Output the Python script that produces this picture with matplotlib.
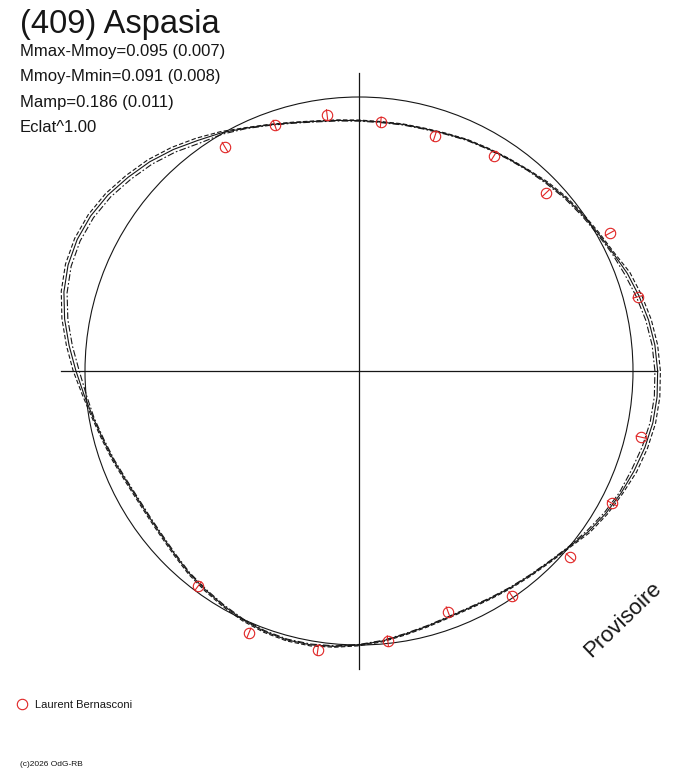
import numpy as np
import matplotlib
matplotlib.use("Agg")
import matplotlib.pyplot as plt
from matplotlib.patches import Circle

plt.rcParams['font.family'] = ['Liberation Sans', 'DejaVu Sans']

title = "(409) Aspasia"
info_lines = ["Mmax-Mmoy=0.095 (0.007)",
              "Mmoy-Mmin=0.091 (0.008)",
              "Mamp=0.186 (0.011)",
              "Eclat^1.00"]
observer = "Laurent Bernasconi"
credit = "(c)2026 OdG-RB"
stamp = "Provisoire"

# fitted curves, radius relative to mean (circle = 1), phase in degrees
fit_phase = np.arange(0, 360, 5)
r_solid = [1.090, 1.084, 1.073, 1.058, 1.042, 1.022, 1.007, 0.995, 0.984, 0.971,
           0.958, 0.947, 0.938, 0.931, 0.922, 0.916, 0.914, 0.912, 0.914, 0.918,
           0.925, 0.938, 0.956, 0.978, 1.004, 1.027, 1.055, 1.080, 1.100, 1.119,
           1.131, 1.135, 1.130, 1.115, 1.091, 1.062, 1.033, 1.007, 0.985, 0.967,
           0.953, 0.940, 0.933, 0.933, 0.938, 0.949, 0.964, 0.976, 0.989, 1.002,
           1.011, 1.016, 1.015, 1.009, 1.000, 0.989, 0.975, 0.964, 0.956, 0.954,
           0.958, 0.965, 0.973, 0.984, 1.000, 1.022, 1.040, 1.055, 1.068, 1.080,
           1.089, 1.092]
r_dash = [1.100, 1.094, 1.083, 1.068, 1.052, 1.026, 1.011, 0.999, 0.988, 0.975,
          0.960, 0.949, 0.940, 0.933, 0.924, 0.918, 0.916, 0.914, 0.916, 0.920,
          0.927, 0.940, 0.958, 0.980, 1.009, 1.037, 1.065, 1.090, 1.110, 1.129,
          1.141, 1.145, 1.140, 1.125, 1.101, 1.072, 1.043, 1.013, 0.989, 0.971,
          0.957, 0.944, 0.937, 0.937, 0.942, 0.953, 0.968, 0.980, 0.993, 1.006,
          1.015, 1.020, 1.019, 1.012, 1.003, 0.992, 0.978, 0.967, 0.959, 0.957,
          0.961, 0.968, 0.976, 0.987, 1.003, 1.028, 1.046, 1.061, 1.078, 1.090,
          1.099, 1.102]
r_dashdot = [1.080, 1.074, 1.063, 1.048, 1.032, 1.018, 1.003, 0.991, 0.980, 0.967,
             0.956, 0.945, 0.936, 0.929, 0.920, 0.914, 0.912, 0.910, 0.912, 0.916,
             0.923, 0.936, 0.954, 0.976, 0.998, 1.015, 1.043, 1.068, 1.088, 1.107,
             1.119, 1.123, 1.118, 1.103, 1.079, 1.050, 1.021, 0.999, 0.982, 0.964,
             0.950, 0.937, 0.930, 0.930, 0.935, 0.946, 0.961, 0.973, 0.986, 0.999,
             1.008, 1.013, 1.012, 1.007, 0.998, 0.987, 0.973, 0.962, 0.954, 0.952,
             0.956, 0.963, 0.971, 0.982, 0.998, 1.016, 1.034, 1.049, 1.058, 1.070,
             1.079, 1.082]

# observations
obs_phase = [120.9, 108.9, 97.1, 85.0, 72.1, 57.9, 43.6, 28.8, 14.9,
             346.8, 332.4, 318.6, 304.2, 290.3, 276.1, 261.6, 247.2, 233.2]
obs_r = [0.953, 0.949, 0.942, 0.912, 0.901, 0.927, 0.942, 1.045, 1.053,
         1.057, 1.042, 1.027, 0.993, 0.936, 0.991, 1.029, 1.037, 0.980]
obs_err = [0.019, 0.018, 0.019, 0.018, 0.018, 0.019, 0.018, 0.019, 0.018,
           0.018, 0.019, 0.018, 0.019, 0.018, 0.019, 0.018, 0.019, 0.018]

W, H = 688, 768
cx, cy, scale = 359, 371, 274.0   # centre in pixels, pixels per unit
axis_len = 1.088

fig = plt.figure(figsize=(W / 100, H / 100), dpi=100)
ax = fig.add_axes([0, 0, 1, 1])
ax.set_xlim(-cx / scale, (W - cx) / scale)
ax.set_ylim(-(H - cy) / scale, cy / scale)
ax.axis('off')

ink = '#161616'
red = '#e02424'

ax.plot([-axis_len, axis_len], [0, 0], color=ink, lw=0.9)
ax.plot([0, 0], [-axis_len, axis_len], color=ink, lw=0.9)
ax.add_patch(Circle((0, 0), 1.0, fill=False, ec=ink, lw=0.8))


def closed_xy(phase, r):
    t = np.radians(np.append(phase, phase[0]))
    rr = np.append(r, r[0])
    return rr * np.cos(t), rr * np.sin(t)


x, y = closed_xy(fit_phase, r_solid)
ax.plot(x, y, color=ink, lw=0.8)
x, y = closed_xy(fit_phase, r_dash)
ax.plot(x, y, color=ink, lw=0.8, ls=(0, (4, 2)))
x, y = closed_xy(fit_phase, r_dashdot)
ax.plot(x, y, color=ink, lw=0.8, ls=(0, (6, 2, 1.5, 2)))

t = np.radians(obs_phase)
r = np.array(obs_r)
e = np.array(obs_err)
for ti, ri, ei in zip(t, r, e):
    ax.plot([(ri - ei) * np.cos(ti), (ri + ei) * np.cos(ti)],
            [(ri - ei) * np.sin(ti), (ri + ei) * np.sin(ti)],
            color=red, lw=0.8)
ax.plot(r * np.cos(t), r * np.sin(t), 'o', ms=7.5, mfc='none', mec=red, mew=0.8)


def fx(px):
    return px / W


def fy(py):
    return 1 - py / H


fig.text(fx(20), fy(33), title, fontsize=23.5, color=ink, va='baseline')
for i, line in enumerate(info_lines):
    fig.text(fx(20), fy(56 + 25.5 * i), line, fontsize=12, color=ink, va='baseline')

ax.plot([fx(22)], [fy(704)], 'o', ms=7.5, mfc='none', mec=red, mew=0.8,
        transform=fig.transFigure)
fig.text(fx(35), fy(705), observer, fontsize=8, color=ink, va='center')
fig.text(fx(20), fy(766), credit, fontsize=6, color=ink, va='baseline')

fig.text(fx(623), fy(620), stamp, fontsize=16, color=ink, rotation=44,
         ha='center', va='center', rotation_mode='anchor')

fig.savefig('out.png', dpi=100)
